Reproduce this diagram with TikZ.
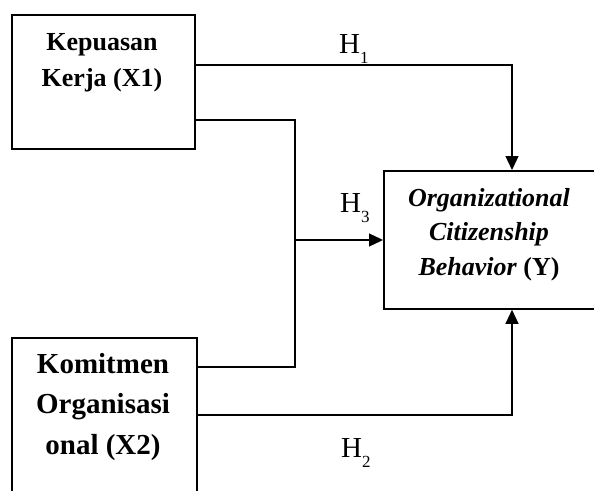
\documentclass[tikz,border=0pt]{standalone}
\usepackage{fontspec}
\setmainfont{Liberation Serif}
\usetikzlibrary{arrows.meta}

\newcommand{\hsub}[1]{\raisebox{-10pt}{\fontsize{17}{17}\selectfont #1}}

\begin{document}
\begin{tikzpicture}[x=1pt,y=-1pt,>={Triangle[length=14pt,width=13pt]},
    var box/.style={draw,line width=1.8pt,rectangle,inner sep=0pt,anchor=north west},
    var text/.style={align=center,inner sep=0pt,anchor=north,font=\fontsize{26}{36}\selectfont\bfseries},
    h label/.style={inner sep=0pt,anchor=base west,font=\fontsize{29}{30}\selectfont},
    conn/.style={line width=1.3pt}]
    \useasboundingbox (0,0) rectangle (594,490);
    \clip (0,0) rectangle (594,490);

    % variables
    \node[var box, minimum width=183pt, minimum height=134pt] (x1) at (11,14) {};
    \node[var box, minimum width=185pt, minimum height=200pt] (x2) at (11,337) {};
    \node[var box, minimum width=215pt, minimum height=138pt] (y) at (383,170) {};

    \node[var text] (x1text) at (102,33) {Kepuasan\\Kerja (X1)};
    \node[var text, font=\fontsize{29}{40.5}\selectfont\bfseries] (x2text) at (103,353) {Komitmen\\Organisasi\\onal (X2)};
    \node[var text, font=\fontsize{26}{34.5}\selectfont\bfseries] (ytext) at (489,188)
        {\textit{Organizational}\\\textit{Citizenship}\\\textit{Behavior} (Y)};

    % bends
    \coordinate (j1) at (512,65);
    \coordinate (j2) at (512,415);
    \coordinate (k1) at (295,120);
    \coordinate (k2) at (295,367);
    \coordinate (k3) at (295,240);

    \draw[conn,->] (x1.east |- j1) -- (j1) -- (y.north -| j1);
    \draw[conn] (x1.east |- k1) -- (k1) -- (k2) -- (x2.east |- k2);
    \draw[conn,->] (k3) -- (k3 -| y.west);
    \draw[conn,->] (x2.east |- j2) -- (j2) -- (y.south -| j2);

    % hypotheses
    \node[h label] (h1) at (339,53) {H\hsub{1}};
    \node[h label] (h3) at (340,212) {H\hsub{3}};
    \node[h label] (h2) at (341,457) {H\hsub{2}};
\end{tikzpicture}
\end{document}
